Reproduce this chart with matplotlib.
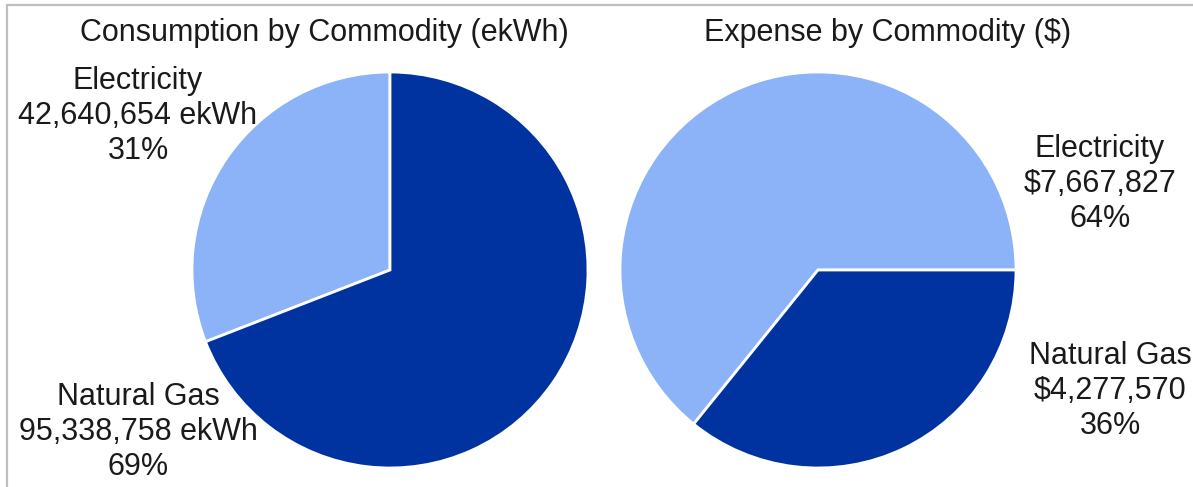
import matplotlib.pyplot as plt
from matplotlib.patches import Rectangle

plt.rcParams['font.family'] = ['Liberation Sans', 'DejaVu Sans']

commodities = ['Electricity', 'Natural Gas']
consumption = [42640654, 95338758]   # ekWh
expense = [7667827, 4277570]         # $
colors = ['#8CB2F8', '#0033A0']

W, H = 1193, 487
fig = plt.figure(figsize=(W / 100, H / 100), dpi=100)

# light frame (left + top edges visible in the reference)
fig.patches.append(Rectangle((7 / W, -0.1), 1.2, 1 - 5 / H + 0.1, transform=fig.transFigure,
                             fill=False, edgecolor='#BFBFBF', linewidth=1.6))


def pie_axes(cx, cy, r):
    return fig.add_axes([(cx - r) / W, 1 - (cy + r) / H, 2 * r / W, 2 * r / H])


def pct(vals):
    tot = sum(vals)
    return [round(v / tot * 100) for v in vals]


# left pie: consumption
ax1 = pie_axes(390, 270, 198)
ax1.pie(consumption, colors=colors, startangle=90, counterclock=True, radius=1,
        wedgeprops=dict(edgecolor='white', linewidth=2))
ax1.set_xlim(-1, 1); ax1.set_ylim(-1, 1)
ax1.set_aspect('equal'); ax1.axis('off')

# right pie: expense
ax2 = pie_axes(818, 270, 198)
ax2.pie(expense, colors=colors, startangle=0, counterclock=True, radius=1,
        wedgeprops=dict(edgecolor='white', linewidth=2))
ax2.set_xlim(-1, 1); ax2.set_ylim(-1, 1)
ax2.set_aspect('equal'); ax2.axis('off')

fs = 22
fig.text(324 / W, 1 - 33 / H, 'Consumption by Commodity (ekWh)', ha='center', va='center',
         fontsize=fs, color='#1a1a1a')
fig.text(888 / W, 1 - 33 / H, 'Expense by Commodity ($)', ha='center', va='center',
         fontsize=fs, color='#1a1a1a')

cp = pct(consumption)
ep = pct(expense)
lab_kw = dict(ha='center', va='center', fontsize=fs, color='#1a1a1a', linespacing=1.2)

fig.text(138 / W, 1 - 116 / H, f'{commodities[0]}\n{consumption[0]:,} ekWh\n{cp[0]}%', **lab_kw)
fig.text(138 / W, 1 - 432 / H, f'{commodities[1]}\n{consumption[1]:,} ekWh\n{cp[1]}%', **lab_kw)
fig.text(1100 / W, 1 - 184 / H, f'{commodities[0]}\n${expense[0]:,}\n{ep[0]}%', **lab_kw)
fig.text(1110 / W, 1 - 391 / H, f'{commodities[1]}\n${expense[1]:,}\n{ep[1]}%', **lab_kw)

fig.savefig('out.png', dpi=100, facecolor='white')
